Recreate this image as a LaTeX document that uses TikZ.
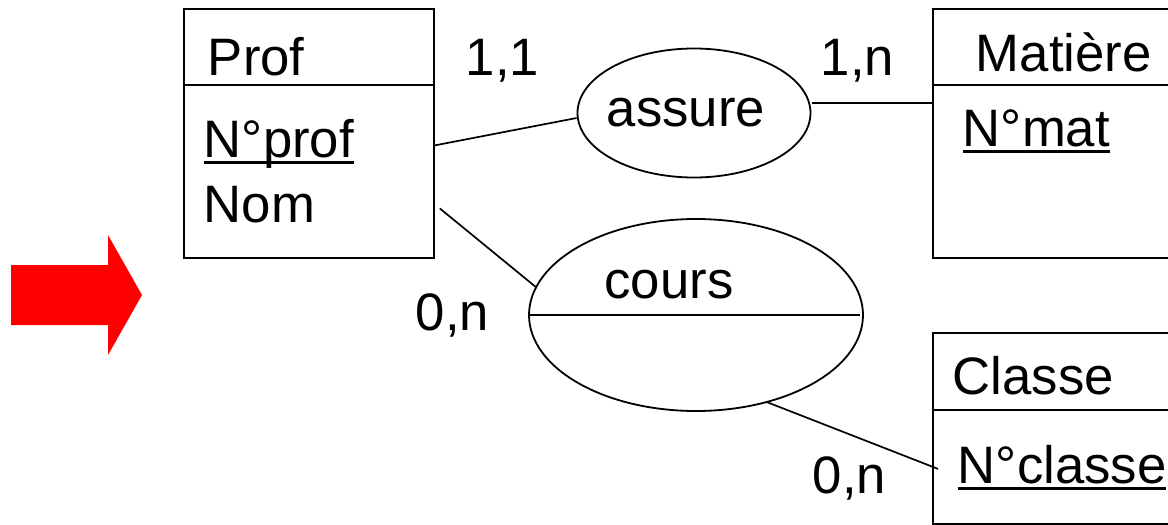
\documentclass[tikz,border=0pt]{standalone}
\usepackage{fontspec}
\setmainfont{Liberation Sans}
\usetikzlibrary{shapes.geometric}

% identifier attribute: underlined at a fixed distance below the baseline
\newcommand\keyattr[1]{\setbox0\hbox{#1}\rlap{\rule[-7pt]{\wd0}{2.6pt}}\box0}

\begin{document}
\begin{tikzpicture}[x=1pt,y=-1pt,
  line width=1.8pt,
  every node/.style={font=\fontsize{52.7}{60}\selectfont, inner sep=0pt},
  entity/.style={draw, rectangle, anchor=north west, minimum width=262pt},
  relation/.style={draw, ellipse},
  txt/.style={anchor=base west},
  conn/.style={line width=1.7pt}
]
\useasboundingbox (0,0) rectangle (1168,525);
\clip (0,0) rectangle (1168,525);

% red arrow
\fill[red] (11,265) -- (108,265) -- (108,235) -- (142,295) -- (108,355)
  -- (108,325) -- (11,325) -- cycle;

% entities
\node[entity, minimum width=250pt, minimum height=249pt] (prof) at (183,8) {};
\node[entity, minimum height=249pt] (mat) at (932,8) {};
\node[entity, minimum height=191pt] (cls) at (932,332) {};

\draw ([yshift=-77pt]prof.north west) -- ([yshift=-77pt]prof.north east);
\draw ([yshift=-77pt]mat.north west) -- ([yshift=-77pt]mat.north east);
\draw ([yshift=-78pt]cls.north west) -- ([yshift=-78pt]cls.north east);

\node[txt] (profname) at (207,75) {Prof};
\node[txt] (profid) at (203,157) {\keyattr{N°prof}};
\node[txt] (profnom) at (203,222) {Nom};

\node[txt] (matname) at (975,71) {Matière};
\node[txt] (matid) at (962,146) {\keyattr{N°mat}};

\node[txt] (clsname) at (952,394) {Classe};
\node[txt] (clsid) at (957,483) {\keyattr{N°classe}};

% relationships
\node[relation, minimum width=233pt, minimum height=129pt] (assure) at (694,113) {};
\node (assuretxt) at (686,113) {assure};

\node[relation, minimum width=334pt, minimum height=192pt] (cours) at (696,315) {};
\node (courstxt) at (669,285) {cours};
\draw (cours.west) -- ([xshift=-4pt]cours.east);

% links
\draw[conn] ([yshift=-12pt]prof.east) -- ([yshift=-5pt]assure.west);
\draw[conn] ([yshift=30.5pt]mat.west) -- ([yshift=30.5pt,xshift=1pt]mat.west -| assure.east);
\draw[conn] ([xshift=5pt,yshift=-75pt]prof.east) -- (cours.170);
\draw[conn] ([xshift=-2pt]cours.-50.6) -- ([xshift=6pt,yshift=-40.5pt]cls.west);

% cardinalities
\node[txt] (c11) at (465,75) {1,1};
\node[txt] (c1n) at (820,75) {1,n};
\node[txt] (c0n) at (415,330) {0,n};
\node[txt] (c0nb) at (812,493) {0,n};
\end{tikzpicture}
\end{document}
